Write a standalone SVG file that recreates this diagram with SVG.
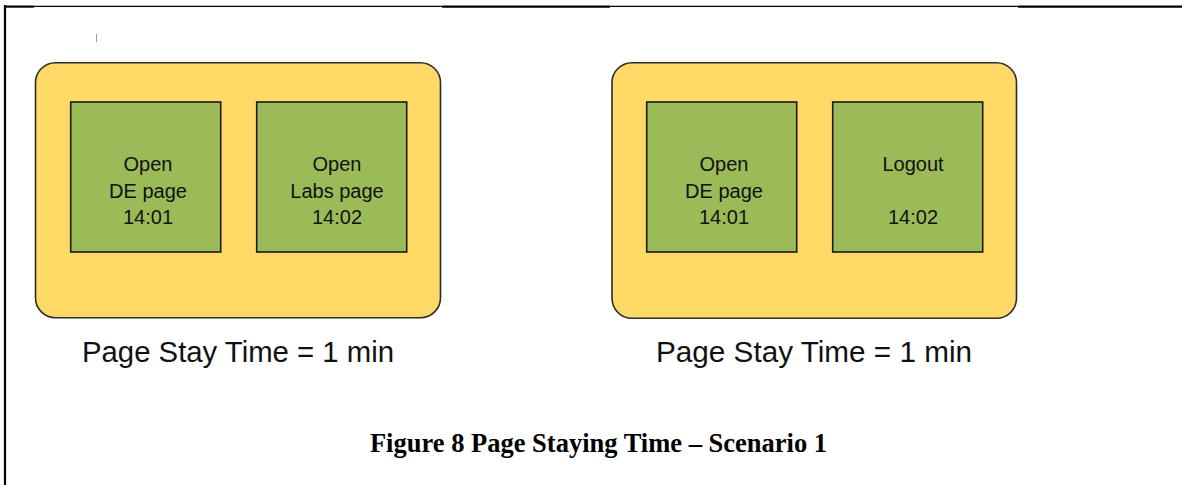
<svg xmlns="http://www.w3.org/2000/svg" width="1182" height="485" viewBox="0 0 1182 485">
  <style>
    .panel { fill: #FFD966; stroke: #2b2b2b; stroke-width: 1.6; }
    .step { fill: #9BBB59; stroke: #1a1a1a; stroke-width: 1.6; }
    .lbl { font-family: "Liberation Sans", Arial, sans-serif; font-size: 20px; fill: #111; text-anchor: middle; }
    .stay { font-family: "Liberation Sans", Arial, sans-serif; font-size: 29px; fill: #111; text-anchor: middle; }
    .cap { font-family: "Liberation Serif", "Times New Roman", serif; font-size: 26.5px; font-weight: bold; fill: #000; text-anchor: middle; }
    .frame-thin { stroke: #000; stroke-width: 1.2; }
    .frame-thick { stroke: #000; stroke-width: 2.2; }
  </style>

  <rect x="0" y="0" width="1182" height="485" fill="#ffffff"/>

  <!-- page frame -->
  <g id="frame" fill="none">
    <line class="frame-thick" x1="5" y1="5" x2="5" y2="485"/>
    <line class="frame-thick" x1="4" y1="6.6" x2="34" y2="6.6"/>
    <line class="frame-thin" x1="34" y1="6.4" x2="442" y2="6.4"/>
    <line class="frame-thick" x1="442" y1="6.6" x2="610" y2="6.6"/>
    <line class="frame-thin" x1="610" y1="6.4" x2="1018" y2="6.4"/>
    <line class="frame-thick" x1="1018" y1="6.6" x2="1182" y2="6.6"/>
    <line x1="96.5" y1="34" x2="96.5" y2="42" stroke="#9a9a9a" stroke-width="1"/>
  </g>

  <!-- scenario A: open DE page, then Labs page -->
  <g id="scenario-a">
    <rect class="panel" x="35.5" y="62.7" width="405" height="255" rx="20" ry="20"/>
  </g>
  <g id="a-open-de">
    <rect class="step" x="70.7" y="102" width="150" height="150"/>
    <text class="lbl" x="148" y="171">Open</text>
    <text class="lbl" x="148" y="197.5">DE page</text>
    <text class="lbl" x="148" y="224">14:01</text>
  </g>
  <g id="a-open-labs">
    <rect class="step" x="256.7" y="102" width="150" height="150"/>
    <text class="lbl" x="337" y="171">Open</text>
    <text class="lbl" x="337" y="197.5">Labs page</text>
    <text class="lbl" x="337" y="224">14:02</text>
  </g>
  <text class="stay" x="238" y="362" textLength="312" lengthAdjust="spacingAndGlyphs">Page Stay Time = 1 min</text>

  <!-- scenario B: open DE page, then logout -->
  <g id="scenario-b">
    <rect class="panel" x="612" y="62.7" width="404.5" height="255.6" rx="20" ry="20"/>
  </g>
  <g id="b-open-de">
    <rect class="step" x="646.7" y="102" width="150" height="150"/>
    <text class="lbl" x="724" y="171">Open</text>
    <text class="lbl" x="724" y="197.5">DE page</text>
    <text class="lbl" x="724" y="224">14:01</text>
  </g>
  <g id="b-logout">
    <rect class="step" x="832.7" y="102" width="150" height="150"/>
    <text class="lbl" x="913" y="171">Logout</text>
    <text class="lbl" x="913" y="224">14:02</text>
  </g>
  <text class="stay" x="814" y="362" textLength="316" lengthAdjust="spacingAndGlyphs">Page Stay Time = 1 min</text>

  <g id="connectors"/>

  <text class="cap" x="598.5" y="452">Figure 8 Page Staying Time – Scenario 1</text>
</svg>
